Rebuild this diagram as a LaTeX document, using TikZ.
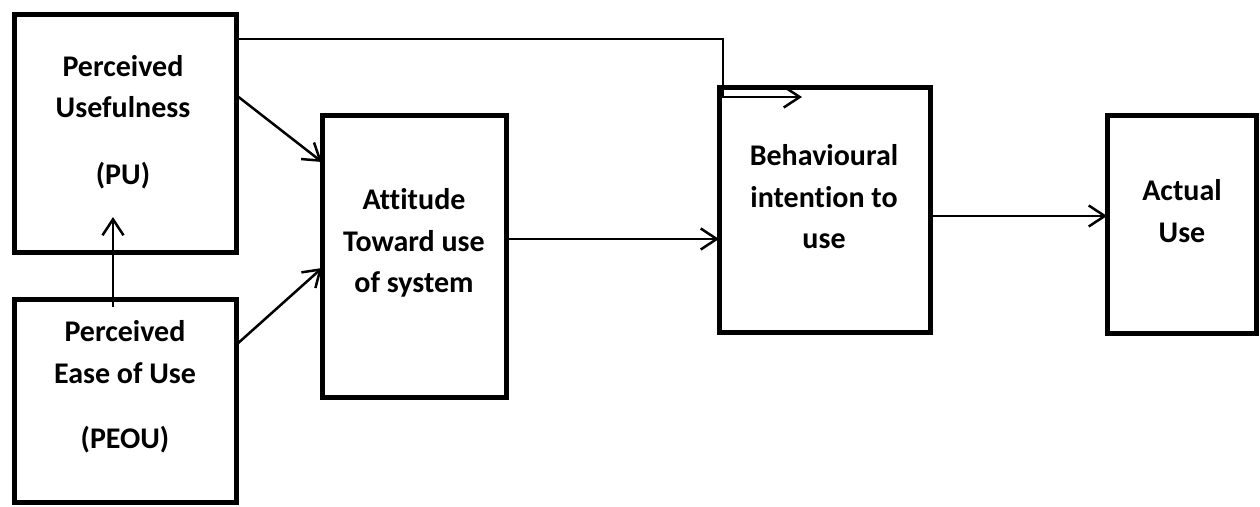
\documentclass[tikz,border=0pt]{standalone}
\usepackage{fontspec}
\setmainfont{Carlito}[Ligatures=NoCommon]
\usetikzlibrary{arrows.meta}

\begin{document}
\begin{tikzpicture}[x=1pt,y=-1pt,
    box/.style={shape=rectangle,draw=black,line width=5pt,outer sep=0pt,inner sep=0pt},
    txt/.style={align=center,font=\fontsize{30}{41.5}\selectfont\bfseries},
    arr/.style={-{Straight Barb[length=16pt,width=21pt]},line width=2.5pt}]

    \useasboundingbox (0,0) rectangle (1260,506);

    \node[box,minimum width=222pt,minimum height=238pt] (PU) at (125,133) {};
    \node[box,minimum width=222pt,minimum height=203pt] (PEOU) at (125,400.5) {};
    \node[box,minimum width=184pt,minimum height=282pt] (ATT) at (414,256) {};
    \node[box,minimum width=211pt,minimum height=245pt] (BI) at (824.5,209.5) {};
    \node[box,minimum width=149pt,minimum height=218pt] (AU) at (1181.5,224) {};

    \node[txt] (PUt) at (123,122) {Perceived\\Usefulness\\[25pt](PU)};
    \node[txt] (PEOUt) at (125,387) {Perceived\\Ease of Use\\[24pt](PEOU)};
    \node[txt] (ATTt) at (414,243) {Attitude\\Toward use\\of system};
    \node[txt] (BIt) at (824,197) {Behavioural\\intention to\\use};
    \node[txt] (AUt) at (1182,211) {Actual\\Use};

    \coordinate (BIin) at ([xshift=83pt,yshift=-10pt]BI.north west);

     \path [arr] ([yshift=38pt]PU.east) edge ([yshift=94pt]ATT.west);
     \path [arr] ([yshift=55.5pt]PEOU.east) edge ([yshift=-12pt]ATT.west);
     \path [arr] ([xshift=-12pt,yshift=-8pt]PEOU.north) edge ([xshift=-12pt,yshift=35pt]PU.south);
     \path [arr] ([yshift=17pt]ATT.east) edge ([yshift=17pt]ATT.east -| BI.west);
     \path [arr] ([yshift=-6.5pt]BI.east) edge ([yshift=-6.5pt]BI.east -| AU.west);
     \draw [arr] ([yshift=-25pt]PU.north east) -| ([xshift=4pt]BIin -| BI.west) -- (BIin);
\end{tikzpicture}
\end{document}
